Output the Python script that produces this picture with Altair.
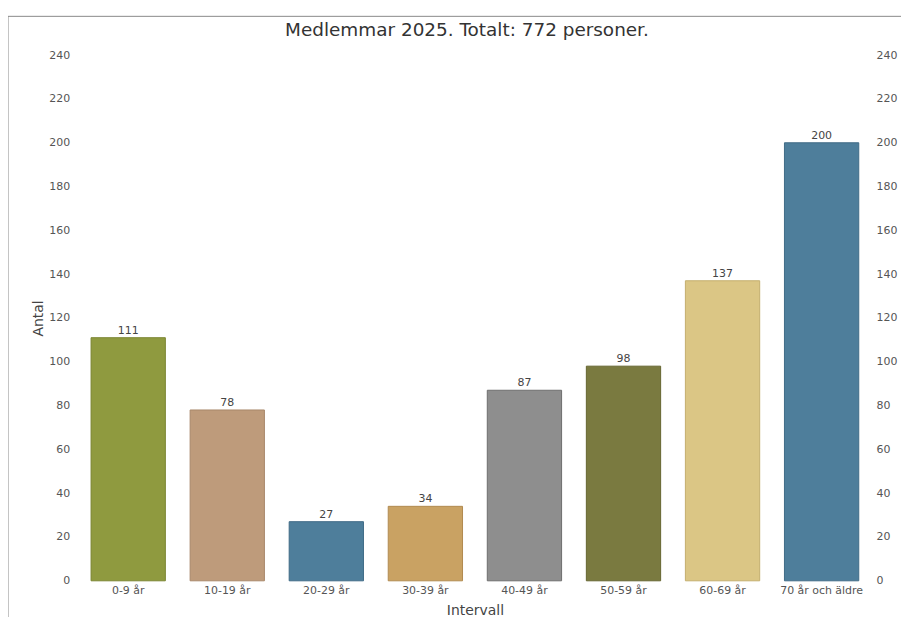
import altair as alt
import pandas as pd

categories = ["0-9 år", "10-19 år", "20-29 år", "30-39 år", "40-49 år", "50-59 år", "60-69 år", "70 år och äldre"]
values = [111, 78, 27, 34, 87, 98, 137, 200]
colors = ["#8F9A3F", "#BE9B7B", "#4E7E9B", "#C9A263", "#8E8E8E", "#7A7A40", "#DBC685", "#4E7E9B"]
strokes = ["#7A8530", "#A8876A", "#3F6B86", "#B08A50", "#6E6E6E", "#65652F", "#C4AE6E", "#3F6B86"]
title_text = "Medlemmar 2025. Totalt: 772 personer."

df = pd.DataFrame({"Intervall": categories, "Antal": values})
one = pd.DataFrame({"t": [title_text]})
FONT = "DejaVu Sans"

xenc = alt.X("Intervall:N", sort=categories, title="Intervall",
             scale=alt.Scale(paddingInner=0.25, paddingOuter=0.125),
             axis=alt.Axis(labelAngle=0, domain=False, ticks=False, labelPadding=4,
                           labelFontSize=11, labelColor="#555", labelFont=FONT,
                           titleFont=FONT, titleFontSize=14, titleFontWeight="normal",
                           titleColor="#444", titlePadding=8))
yscale = alt.Scale(domain=[0, 240], nice=False)
yaxis_left = alt.Axis(values=list(range(0, 241, 20)), grid=False, domain=False, ticks=False,
                      labelPadding=9, labelFontSize=11, labelColor="#555", labelFont=FONT,
                      titleFont=FONT, titleFontSize=14, titleFontWeight="normal",
                      titleColor="#444", titlePadding=3)

bars = alt.Chart(df).mark_bar(strokeWidth=1).encode(
    x=xenc,
    y=alt.Y("Antal:Q", scale=yscale, title="Antal", axis=yaxis_left),
    color=alt.Color("Intervall:N", sort=categories, scale=alt.Scale(domain=categories, range=colors), legend=None),
    stroke=alt.Stroke("Intervall:N", sort=categories, scale=alt.Scale(domain=categories, range=strokes), legend=None),
)

labels = alt.Chart(df).mark_text(dy=-7, fontSize=11, color="#444", font=FONT).encode(
    x=xenc,
    y=alt.Y("Antal:Q", scale=yscale, title="Antal", axis=yaxis_left),
    text="Antal:Q",
)

right_axis = alt.Chart(df).mark_bar(opacity=0).encode(
    x=xenc,
    y=alt.Y("Antal:Q", scale=yscale, title=None,
            axis=alt.Axis(orient="right", values=list(range(0, 241, 20)), grid=False, domain=False,
                          ticks=False, labelPadding=5, labelFontSize=11, labelColor="#555",
                          labelFont=FONT)),
)

title_mark = alt.Chart(one).mark_text(fontSize=18.5, color="#333", font=FONT, baseline="middle").encode(
    x=alt.value(390), y=alt.value(-25), text="t:N")

top_border = alt.Chart(one).mark_rule(color="#888", strokeWidth=1).encode(
    x=alt.value(-71), x2=alt.value(830), y=alt.value(-39))
left_border = alt.Chart(one).mark_rule(color="#888", strokeWidth=1).encode(
    x=alt.value(-71), y=alt.value(-39), y2=alt.value(570))

chart = alt.layer(alt.layer(bars, labels), right_axis, title_mark, top_border, left_border).resolve_scale(
    y="independent", stroke="independent"
).properties(
    width=796, height=528,
    autosize=alt.AutoSizeParams(type="none"),
    padding={"left": 71, "top": 46, "right": 30, "bottom": 40},
).configure_view(stroke=None)

chart.save("out.html", embed_options={"renderer": "svg", "actions": False})
